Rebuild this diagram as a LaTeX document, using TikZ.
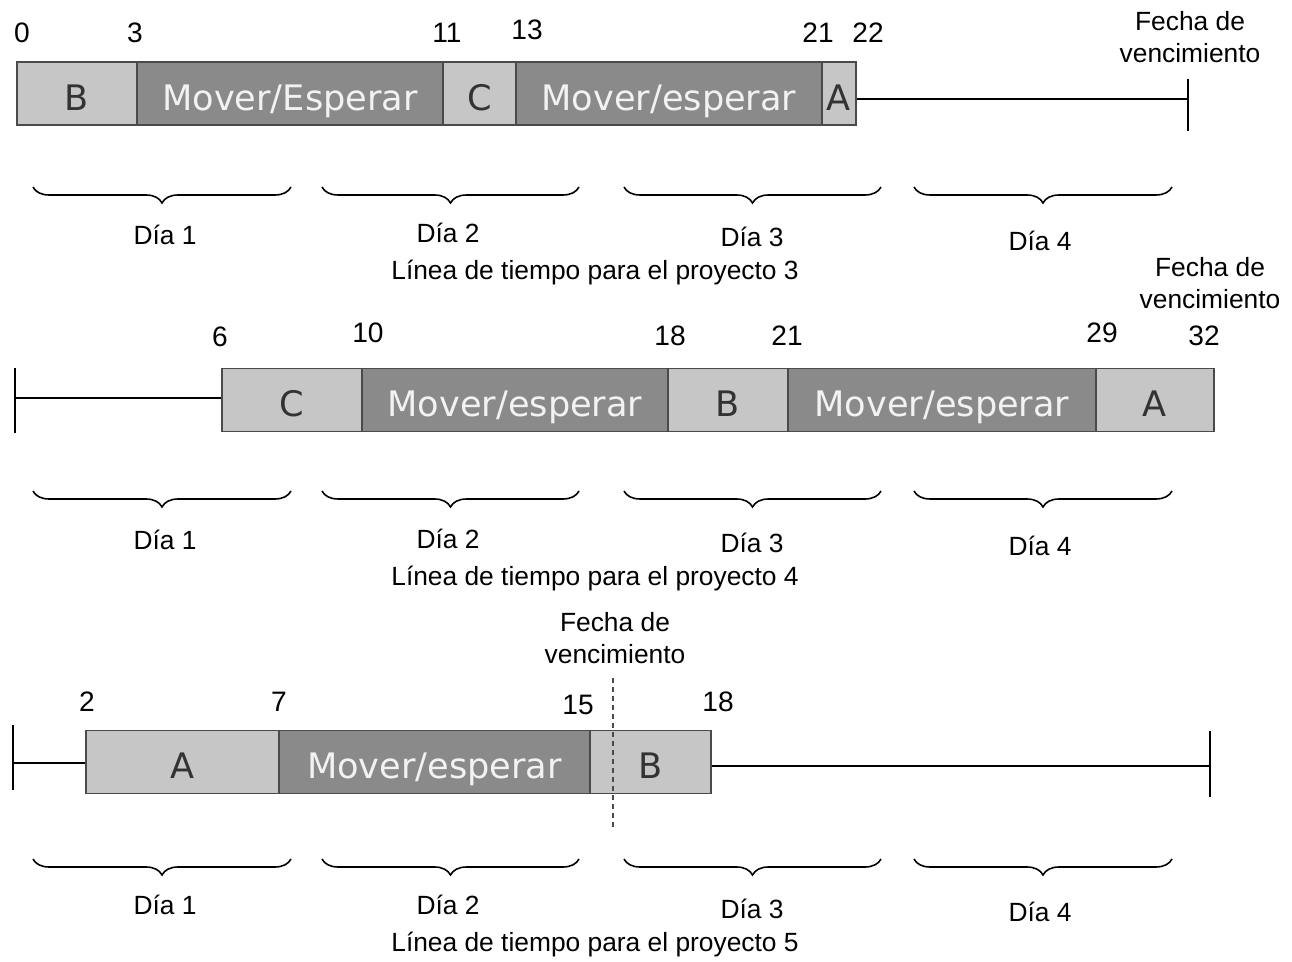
\documentclass[tikz,border=0pt]{standalone}
\usepackage{fontspec}
\setmainfont{Liberation Sans}
\newfontfamily\fuentebarra{DejaVu Sans}
\usetikzlibrary{positioning}
\usetikzlibrary{decorations.pathreplacing}

\definecolor{grisclaro}{HTML}{C6C6C6}
\definecolor{grisoscuro}{HTML}{8A8A8A}
\definecolor{borde}{HTML}{4A4A4A}

\begin{document}
\begin{tikzpicture}[x=0.02cm, y=-0.02cm,
    every node/.style={inner sep=0pt, font=\fontsize{15}{18}\selectfont},
    tramo/.style={draw=borde, line width=1.1pt, minimum height=1.26cm,
                  text height=19pt, text depth=0pt,
                  font=\fuentebarra\fontsize{20}{24}\selectfont},
    claro/.style={tramo, fill=grisclaro, text=black!80},
    oscuro/.style={tramo, fill=grisoscuro, text=white!95!black},
    cifra/.style={font=\fontsize{16}{19}\selectfont},
    linea/.style={line width=1.2pt},
    llave/.style={decorate, decoration={brace, mirror, amplitude=0.32cm}, line width=0.9pt},
    vence/.style={align=center}]
              \useasboundingbox (0,0) rectangle (1292,962);

              % Proyecto 3
              \node[cifra] (n0) at (22,33) {0};
              \node[cifra] (n3) at (135,33) {3};
              \node[cifra] (n11) at (447,33) {11};
              \node[cifra] (n13) at (527,30) {13};
              \node[cifra] (n21a) at (818,33) {21};
              \node[cifra] (n22) at (868,33) {22};
              \node[vence] (venc3) at (1190,37) {Fecha de\\vencimiento};
              \node[claro, minimum width=2.4cm] (b3) at (77,93.5) {B};
              \node[oscuro, minimum width=6.12cm] (mov3a) at (290,93.5) {Mover/Esperar};
              \node[claro, minimum width=1.46cm] (c3) at (479.5,93.5) {C};
              \node[oscuro, minimum width=6.12cm] (mov3b) at (669,93.5) {Mover/esperar};
              \node[claro, minimum width=0.68cm] (a3) at (839,93.5) {A};
              \coordinate (fin3) at (1188,99);
              \draw[linea] (a3.east |- fin3) -- (fin3);
              \draw[linea] (fin3) ++(0,-20) -- ++(0,52);

              % Proyecto 4
              \node[cifra] (n6) at (220,337) {6};
              \node[cifra] (n10) at (368,333) {10};
              \node[cifra] (n18a) at (670,336) {18};
              \node[cifra] (n21b) at (787,336) {21};
              \node[cifra] (n29) at (1102,333) {29};
              \node[cifra] (n32) at (1204,336) {32};
              \node[vence] (venc4) at (1210,283) {Fecha de\\vencimiento};
              \coordinate (ini4) at (15,398);
              \node[claro, minimum width=2.8cm] (c4) at (292,400) {C};
              \node[oscuro, minimum width=6.12cm] (mov4a) at (515,400) {Mover/esperar};
              \node[claro, minimum width=2.4cm] (b4) at (728,400) {B};
              \node[oscuro, minimum width=6.16cm] (mov4b) at (942,400) {Mover/esperar};
              \node[claro, minimum width=2.36cm] (a4) at (1155,400) {A};
              \draw[linea] (ini4) -- (c4.west |- ini4);
              \draw[linea] (ini4) ++(0,-30) -- ++(0,65);

              % Proyecto 5
              \node[cifra] (n2) at (87,702) {2};
              \node[cifra] (n7) at (279,702) {7};
              \node[cifra] (n15) at (578,705) {15};
              \node[cifra] (n18b) at (718,702) {18};
              \node[vence] (venc5) at (615,638) {Fecha de\\vencimiento};
              \coordinate (ini5) at (13,763);
              \coordinate (fin5) at (1210,766);
              \node[claro, minimum width=3.86cm] (a5) at (182.5,762) {A};
              \node[oscuro, minimum width=6.22cm] (mov5) at (434.5,762) {Mover/esperar};
              \node[claro, minimum width=2.42cm] (b5) at (650.5,762) {B};
              \draw[linea] (ini5) -- (a5.west |- ini5);
              \draw[linea] (ini5) ++(0,-38) -- ++(0,65);
              \draw[linea] (b5.east |- fin5) -- (fin5);
              \draw[linea] (fin5) ++(0,-35) -- ++(0,66);
              \coordinate (corte5a) at (613,678);
              \coordinate (corte5b) at (613,828);
              \draw[borde, line width=1pt, dash pattern=on 0.1cm off 0.08cm] (corte5a) -- (corte5b);

              % Llaves de los dias
              \foreach \fila/\yy in {3/187, 4/491, 5/859}{
                \foreach \d/\xa/\xb in {1/33/291, 2/322/579, 3/624/881, 4/914/1172}{
                  \coordinate (ll\fila\d a) at (\xa,\yy);
                  \coordinate (ll\fila\d b) at (\xb,\yy);
                  \draw[llave] (ll\fila\d a) -- (ll\fila\d b);
                }
              }

              % Etiquetas
              \node (dia31) at (165,235) {Día 1};
              \node (dia32) at (448,233) {Día 2};
              \node (dia33) at (752,237) {Día 3};
              \node (dia34) at (1040,241) {Día 4};
              \node (tit3) at (595,273) {Línea de tiempo para el proyecto 3};
              \node (dia41) at (165,540) {Día 1};
              \node (dia42) at (448,539) {Día 2};
              \node (dia43) at (752,543) {Día 3};
              \node (dia44) at (1040,546) {Día 4};
              \node (tit4) at (595,579) {Línea de tiempo para el proyecto 4};
              \node (dia51) at (165,905) {Día 1};
              \node (dia52) at (448,905) {Día 2};
              \node (dia53) at (752,909) {Día 3};
              \node (dia54) at (1040,912) {Día 4};
              \node (tit5) at (595,945) {Línea de tiempo para el proyecto 5};
            \end{tikzpicture}
\end{document}
